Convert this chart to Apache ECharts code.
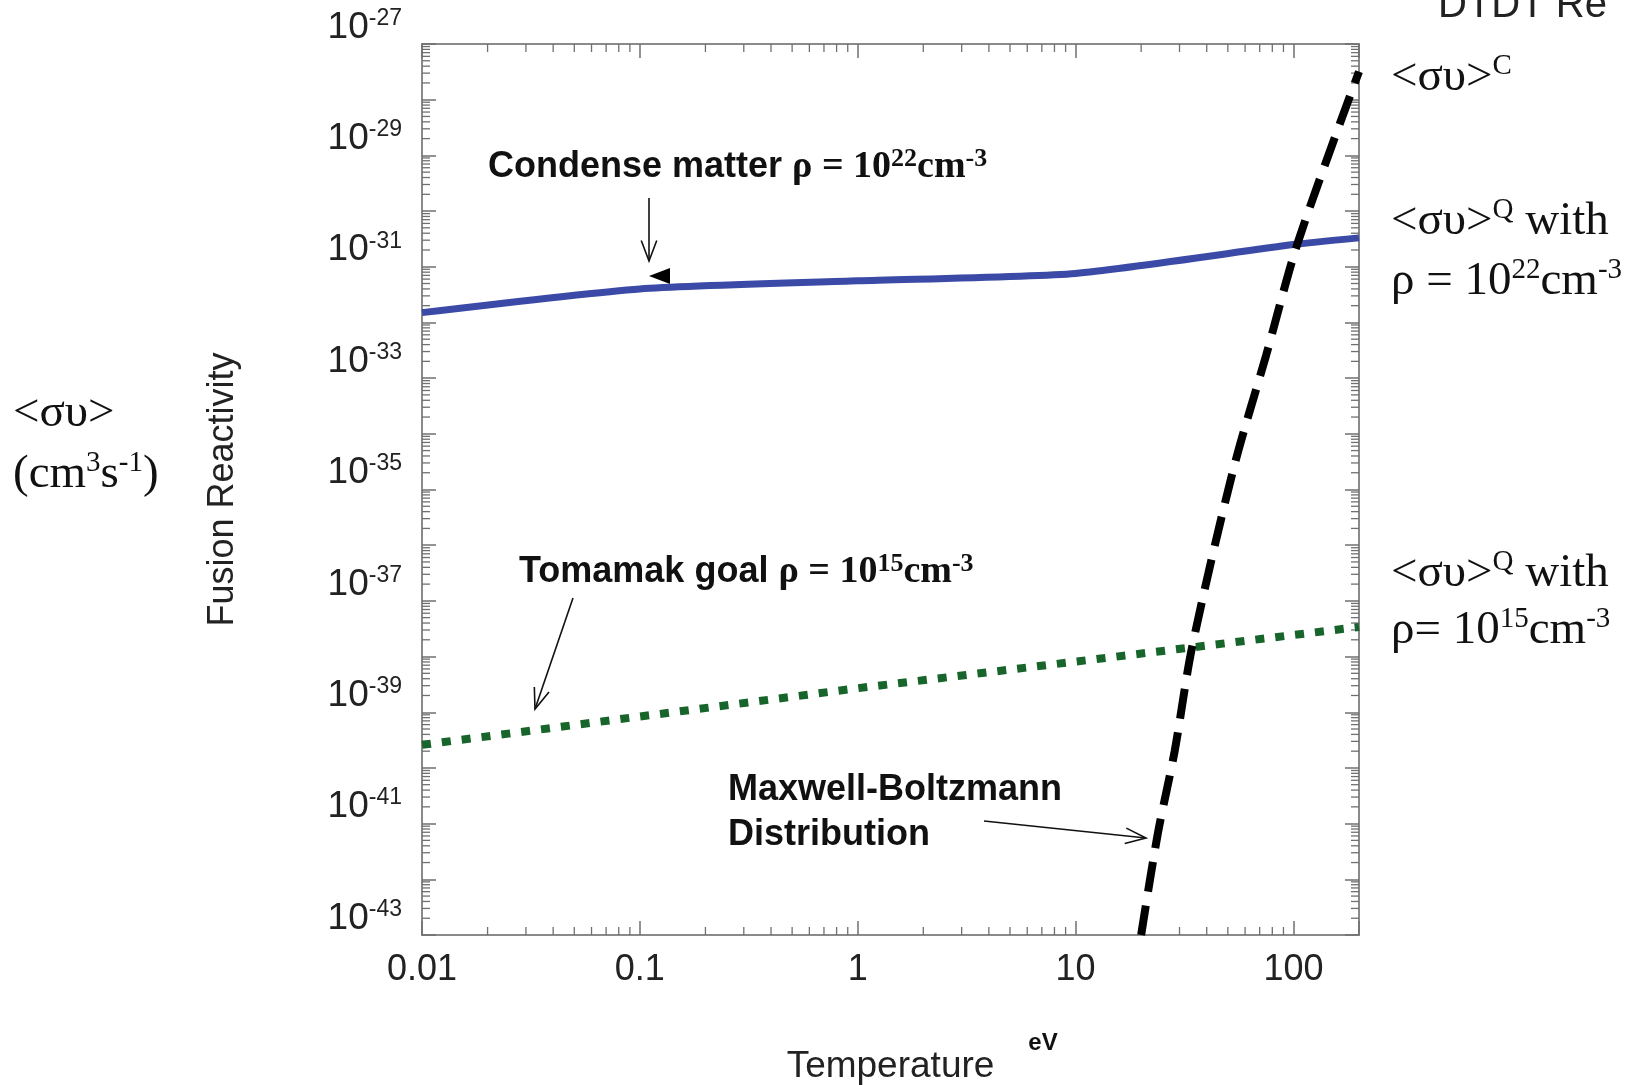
<!DOCTYPE html>
<html>
<head>
<meta charset="utf-8">
<title>Fusion Reactivity</title>
<script src="https://cdn.jsdelivr.net/npm/echarts@6/dist/echarts.min.js"></script>
<style>
  html, body { margin: 0; padding: 0; background: #fff; }
  #chart { width: 1636px; height: 1085px; }
</style>
</head>
<body>
<div id="chart"></div>
<script>
// values: temperature in eV, reactivity in cm^3 s^-1
var condenseT  = [0.01, 0.1, 1, 10, 100, 200];
var condenseSv = [1.5e-32, 4.0e-32, 5.6e-32, 7.6e-32, 2.5e-31, 3.3e-31];

var tokamakT  = [0.01, 1, 200];
var tokamakSv = [2.6e-40, 2.7e-39, 3.4e-38];

var maxwellT  = [20, 23.8, 28.5, 34.3, 53, 75, 105, 200];
var maxwellSv = [1e-43, 6.3e-42, 2e-40, 1.5e-38, 2.3e-35, 2.6e-33, 2.8e-31, 3.2e-28];

var tempMin = 0.01, tempMax = 200;
var expMin = -43, expMax = -27;          // y axis runs over powers of ten
var minorSteps = [2, 3, 4, 5, 6, 7, 8, 9];
var xDecades = [-2, -1, 0, 1, 2];

var sans = '"Liberation Sans", Arial, sans-serif';
var serif = '"Liberation Serif", "Times New Roman", serif';

function pairs(xs, ys) {
    return xs.map(function (x, i) { return [x, Math.log10(ys[i])]; });
}

// minor tick positions (2..9 in each decade)
var xMinor = [];
xDecades.forEach(function (d) {
    minorSteps.forEach(function (k) {
        var v = k * Math.pow(10, d);
        if (v < tempMax) xMinor.push([v, (expMin + expMax) / 2]);
    });
});
var yMinor = [];
for (var d = expMin; d < expMax; d++) {
    minorSteps.forEach(function (k) { yMinor.push([1, d + Math.log10(k)]); });
}

var tickColor = '#707070';
var frameColor = '#8a8a8a';
var minorLen = 8;

function tickLine(x1, y1, x2, y2) {
    return {type: 'line', shape: {x1: x1, y1: y1, x2: x2, y2: y2},
            style: {stroke: tickColor, lineWidth: 1.3}};
}

function arrow(x1, y1, x2, y2) {
    var a = Math.atan2(y2 - y1, x2 - x1), len = 22, spread = 0.36;
    var p1 = [x2 - len * Math.cos(a - spread), y2 - len * Math.sin(a - spread)];
    var p2 = [x2 - len * Math.cos(a + spread), y2 - len * Math.sin(a + spread)];
    return [
        {type: 'polyline', silent: true, shape: {points: [[x1, y1], [x2, y2]]},
         style: {stroke: '#111', lineWidth: 1.6, fill: null}},
        {type: 'polyline', silent: true, shape: {points: [p1, [x2, y2], p2]},
         style: {stroke: '#111', lineWidth: 1.6, fill: null}}
    ];
}

var annRich = {
    a: {fontFamily: sans, fontSize: 36, fontWeight: 'bold', lineHeight: 42},
    t: {fontFamily: serif, fontSize: 38, fontWeight: 'bold', lineHeight: 42},
    u: {fontFamily: serif, fontSize: 26, fontWeight: 'bold', lineHeight: 26, verticalAlign: 'top'}
};
var serRich = {
    n: {fontFamily: serif, fontSize: 47, lineHeight: 52},
    p: {fontFamily: serif, fontSize: 29, lineHeight: 29, verticalAlign: 'top'}
};

function label(x, y, text, rich) {
    return {type: 'text', x: x, y: y, silent: true,
            style: {text: text, rich: rich, fill: '#111', align: 'left', verticalAlign: 'middle'}};
}

var graphics = [
    label(488, 167, '{a|Condense matter }{t|ρ = 10}{u|22}{t|cm}{u|-3}', annRich),
    label(519, 572, '{a|Tomamak goal }{t|ρ = 10}{u|15}{t|cm}{u|-3}', annRich),
    {type: 'text', x: 728, y: 768, silent: true,
     style: {text: 'Maxwell-Boltzmann\nDistribution', fill: '#111', font: 'bold 36px ' + sans,
             lineHeight: 45, align: 'left', verticalAlign: 'top'}},
    {type: 'polygon', silent: true, shape: {points: [[649, 276], [670, 268], [670, 284]]},
     style: {fill: '#000'}},
    label(13, 414, '{n|<συ>}', serRich),
    label(13, 475, '{n|(cm}{p|3}{n|s}{p|-1}{n|)}', serRich),
    label(1391, 78, '{n|<συ>}{p|C}', serRich),
    label(1391, 222, '{n|<συ>}{p|Q}{n| with}', serRich),
    label(1391, 282, '{n|ρ = 10}{p|22}{n|cm}{p|-3}', serRich),
    label(1391, 574, '{n|<συ>}{p|Q}{n| with}', serRich),
    label(1391, 631, '{n|ρ= 10}{p|15}{n|cm}{p|-3}', serRich),
    {type: 'text', x: 1043, y: 1043, silent: true,
     style: {text: 'eV', fill: '#111', font: 'bold 24px ' + sans, align: 'center', verticalAlign: 'middle'}},
    {type: 'text', x: 1438, y: 26, silent: true,
     style: {text: 'DTDT Re', fill: '#222', font: '40px ' + sans, align: 'left', verticalAlign: 'bottom'}}
].concat(arrow(649, 198, 649, 261), arrow(573, 598, 535, 709), arrow(984, 821, 1146, 838));

function yAxisCfg(pos, showLabel) {
    return {
        type: 'value', position: pos, min: expMin, max: expMax, interval: 1,
        name: showLabel ? 'Fusion Reactivity' : '', nameLocation: 'middle', nameRotate: 90, nameGap: 181,
        nameTextStyle: {fontFamily: sans, fontSize: 36, color: '#222'},
        axisLine: {show: true, onZero: false, lineStyle: {color: frameColor, width: 2}},
        axisTick: {show: true, inside: true, length: 14, lineStyle: {color: tickColor, width: 1.5}},
        splitLine: {show: false},
        axisLabel: {
            show: showLabel, margin: 20, verticalAlign: 'bottom', color: '#222',
            formatter: function (v) {
                var e = Math.round(v);
                if (Math.abs(e) % 2 !== 1) return '';
                return '{b|10}{s|' + e + '}';
            },
            rich: {
                b: {fontFamily: sans, fontSize: 37, lineHeight: 37, padding: [4, 0, 0, 0], color: '#222'},
                s: {fontFamily: sans, fontSize: 23, lineHeight: 23, verticalAlign: 'top', color: '#222'}
            }
        }
    };
}

function xAxisCfg(pos, showLabel) {
    return {
        type: 'log', logBase: 10, position: pos, min: tempMin, max: tempMax,
        name: showLabel ? 'Temperature' : '', nameLocation: 'middle', nameGap: 113,
        nameTextStyle: {fontFamily: sans, fontSize: 37, color: '#222'},
        axisLine: {show: true, onZero: false, lineStyle: {color: frameColor, width: 2}},
        axisTick: {show: true, inside: true, length: 14, lineStyle: {color: tickColor, width: 1.5}},
        splitLine: {show: false},
        axisLabel: {
            show: showLabel, margin: 17, fontFamily: sans, fontSize: 36, color: '#222',
            formatter: function (v) {
                var l = Math.log10(v);
                if (Math.abs(l - Math.round(l)) > 1e-6) return '';
                return String(v);
            }
        }
    };
}

var chart = echarts.init(document.getElementById('chart'), null, {renderer: 'canvas'});

chart.setOption({
    animation: false,
    backgroundColor: '#fff',
    grid: {left: 422, right: 277, top: 44, bottom: 150, containLabel: false, outerBoundsMode: 'none'},
    xAxis: [xAxisCfg('bottom', true), xAxisCfg('top', false)],
    yAxis: [yAxisCfg('left', true), yAxisCfg('right', false)],
    series: [
        {
            type: 'custom', silent: true, z: 1, encode: {x: 0, y: 1},
            renderItem: function (params, api) {
                var v = api.value(0);
                var lo = api.coord([v, expMin]), hi = api.coord([v, expMax]);
                return {type: 'group', children: [
                    tickLine(lo[0], lo[1], lo[0], lo[1] - minorLen),
                    tickLine(hi[0], hi[1], hi[0], hi[1] + minorLen)
                ]};
            },
            data: xMinor
        },
        {
            type: 'custom', silent: true, z: 1, encode: {x: 0, y: 1},
            renderItem: function (params, api) {
                var e = api.value(1);
                var l = api.coord([tempMin, e]), r = api.coord([tempMax, e]);
                return {type: 'group', children: [
                    tickLine(l[0], l[1], l[0] + minorLen, l[1]),
                    tickLine(r[0], r[1], r[0] - minorLen, r[1])
                ]};
            },
            data: yMinor
        },
        {
            name: 'Condense matter', type: 'line', z: 3, symbol: 'none', smooth: 0.2,
            lineStyle: {color: '#3b4aa6', width: 7},
            data: pairs(condenseT, condenseSv)
        },
        {
            name: 'Tomamak goal', type: 'line', z: 3, symbol: 'none',
            lineStyle: {color: '#17652b', width: 8, type: [9, 11], cap: 'butt'},
            data: pairs(tokamakT, tokamakSv)
        },
        {
            name: 'Maxwell-Boltzmann', type: 'line', z: 4, symbol: 'none', smooth: 0.3,
            lineStyle: {color: '#000', width: 8, type: [30, 14], cap: 'butt'},
            data: pairs(maxwellT, maxwellSv)
        }
    ],
    graphic: graphics
});
</script>
</body>
</html>
